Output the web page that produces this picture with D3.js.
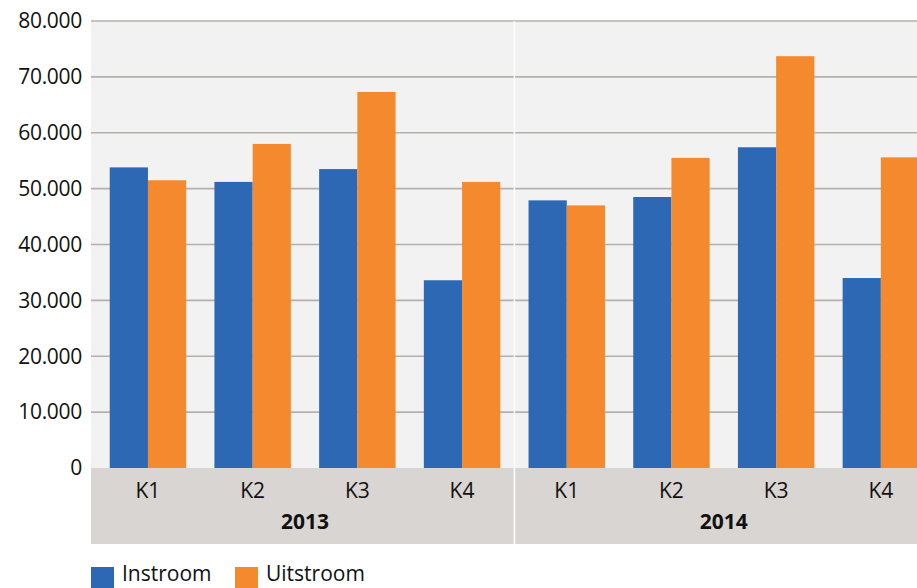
<!DOCTYPE html>
<html>
<head>
<meta charset="utf-8">
<script src="https://cdn.jsdelivr.net/npm/d3@7"></script>
<style>
  body { margin: 0; background: #fff; }
  svg { display: block; font-family: "Open Sans", "Noto Sans", sans-serif; }
</style>
</head>
<body>
<svg id="chart" width="917" height="588"></svg>
<script>
const years = ["2013", "2014"];
const quarters = ["K1", "K2", "K3", "K4"];
const series = ["Instroom", "Uitstroom"];
const instroom = [53800, 51200, 53500, 33600, 47900, 48500, 57400, 34000];
const uitstroom = [51500, 58000, 67300, 51200, 47000, 55500, 73700, 55600];
const yTicks = [0, 10000, 20000, 30000, 40000, 50000, 60000, 70000, 80000];

const colors = { Instroom: "#2d68b4", Uitstroom: "#f5892d" };

const cats = [];
years.forEach((yr) => quarters.forEach((q) => cats.push(yr + "-" + q)));
const rows = cats.map((c, i) => ({ cat: c, Instroom: instroom[i], Uitstroom: uitstroom[i] }));

const svg = d3.select("#chart");
const plotLeft = 91, plotTop = 21, zeroY = 468, bandBottom = 544;

const y = d3.scaleLinear().domain([0, 80000]).range([zeroY, plotTop]);
const x = d3.scaleBand().domain(cats).range([95.6, 95.6 + 8 * 104.7]).paddingInner(0.27).paddingOuter(0.135);
const xs = d3.scaleBand().domain(series).range([0, x.bandwidth()]);

// plot background
svg.append("rect").attr("x", plotLeft).attr("y", plotTop).attr("width", 917 - plotLeft).attr("height", zeroY - plotTop)
    .attr("fill", "#f2f2f2");
// category band
svg.append("rect").attr("x", plotLeft).attr("y", zeroY).attr("width", 917 - plotLeft).attr("height", bandBottom - zeroY)
    .attr("fill", "#d9d5d2");

// gridlines
svg.append("g").selectAll("line").data(yTicks.slice(1)).enter().append("line")
    .attr("x1", plotLeft).attr("x2", 917)
    .attr("y1", (d) => y(d)).attr("y2", (d) => y(d))
    .attr("stroke", "#b5b0ad").attr("stroke-width", 1.6);

// year divider
const divX = x.range()[0] + x.step() * 4;
svg.append("line").attr("x1", divX).attr("x2", divX).attr("y1", plotTop).attr("y2", bandBottom)
    .attr("stroke", "#ffffff").attr("stroke-width", 1.5);

// bars
const groups = svg.append("g").selectAll("g").data(rows).enter().append("g")
    .attr("transform", (d) => `translate(${x(d.cat)},0)`);
groups.selectAll("rect").data((d) => series.map((s) => ({ s, v: d[s] }))).enter().append("rect")
    .attr("x", (d) => xs(d.s))
    .attr("y", (d) => y(d.v))
    .attr("width", xs.bandwidth())
    .attr("height", (d) => y(0) - y(d.v))
    .attr("fill", (d) => colors[d.s]);

// y tick labels
svg.append("g").selectAll("text").data(yTicks).enter().append("text")
    .attr("x", 82).attr("y", (d) => y(d))
    .attr("dy", "0.35em")
    .attr("text-anchor", "end")
    .attr("font-size", 21)
    .attr("letter-spacing", -0.3)
    .attr("fill", "#111")
    .text((d) => d3.format(",")(d).replace(/,/g, "."));

// quarter labels
svg.append("g").selectAll("text").data(cats).enter().append("text")
    .attr("x", (d) => x(d) + x.bandwidth() / 2)
    .attr("y", 491).attr("dy", "0.35em")
    .attr("text-anchor", "middle")
    .attr("font-size", 21).attr("fill", "#111")
    .text((d) => d.split("-")[1]);

// year labels
svg.append("g").selectAll("text").data(years).enter().append("text")
    .attr("x", (d, i) => x.range()[0] + x.step() * (i * 4 + 2))
    .attr("y", 522).attr("dy", "0.35em")
    .attr("text-anchor", "middle")
    .attr("font-size", 21).attr("font-weight", "bold").attr("fill", "#111")
    .text((d) => d);

// legend
const legendX = [91, 235];
const lg = svg.append("g").selectAll("g").data(series).enter().append("g")
    .attr("transform", (d, i) => `translate(${legendX[i]},567)`);
lg.append("rect").attr("width", 23).attr("height", 21).attr("fill", (d) => colors[d]);
lg.append("text").attr("x", 31).attr("y", 7).attr("dy", "0.35em")
    .attr("font-size", 21).attr("fill", "#111").text((d) => d);
</script>
</body>
</html>
